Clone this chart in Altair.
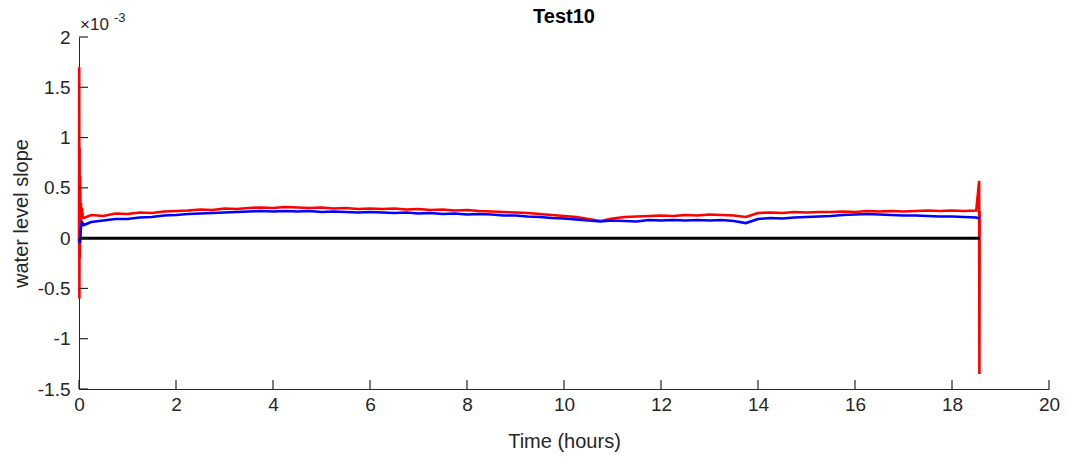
import altair as alt
import pandas as pd

# time (hours) and slope values (units of 1e-3)
red_t = [0.0, 0.004, 0.008, 0.012, 0.016, 0.02, 0.025, 0.03, 0.04, 0.05, 0.06, 0.08,
         0.10, 0.25, 0.50, 0.75, 1.00, 1.25, 1.50, 1.75, 2.00, 2.25, 2.50, 2.75, 3.00,
         3.25, 3.50, 3.75, 4.00, 4.25, 4.50, 4.75, 5.00, 5.25, 5.50, 5.75, 6.00, 6.25,
         6.50, 6.75, 7.00, 7.25, 7.50, 7.75, 8.00, 8.25, 8.50, 8.75, 9.00, 9.25, 9.50,
         9.75, 10.00, 10.25, 10.50, 10.75, 11.00, 11.25, 11.50, 11.75, 12.00, 12.25,
         12.50, 12.75, 13.00, 13.25, 13.50, 13.75, 14.00, 14.25, 14.50, 14.75, 15.00,
         15.25, 15.50, 15.75, 16.00, 16.25, 16.50, 16.75, 17.00, 17.25, 17.50, 17.75,
         18.00, 18.25, 18.50, 18.56, 18.565, 18.57]
red_v = [-0.05, 1.70, -0.60, 0.90, -0.20, 0.35, 0.62, 0.20, 0.35, 0.22, 0.30, 0.20,
         0.20, 0.23, 0.22, 0.245, 0.24, 0.255, 0.25, 0.265, 0.27, 0.275, 0.285, 0.28, 0.295,
         0.29, 0.30, 0.305, 0.30, 0.31, 0.305, 0.30, 0.305, 0.295, 0.30, 0.29, 0.295, 0.29,
         0.295, 0.285, 0.29, 0.28, 0.285, 0.275, 0.28, 0.27, 0.265, 0.26, 0.255, 0.25, 0.24,
         0.23, 0.22, 0.21, 0.19, 0.17, 0.195, 0.21, 0.215, 0.22, 0.225, 0.22,
         0.23, 0.225, 0.235, 0.23, 0.225, 0.21, 0.25, 0.255, 0.25, 0.26, 0.255,
         0.26, 0.26, 0.265, 0.26, 0.27, 0.265, 0.27, 0.265, 0.27, 0.275, 0.27,
         0.275, 0.27, 0.275, 0.57, -1.35, 0.27]

blue_t = [0.0, 0.02, 0.04, 0.06, 0.10, 0.25, 0.50, 0.75, 1.00, 1.25, 1.50, 1.75, 2.00,
          2.25, 2.50, 2.75, 3.00, 3.25, 3.50, 3.75, 4.00, 4.25, 4.50, 4.75, 5.00, 5.25,
          5.50, 5.75, 6.00, 6.25, 6.50, 6.75, 7.00, 7.25, 7.50, 7.75, 8.00, 8.25, 8.50,
          8.75, 9.00, 9.25, 9.50, 9.75, 10.00, 10.25, 10.50, 10.75, 11.00, 11.25, 11.50,
          11.75, 12.00, 12.25, 12.50, 12.75, 13.00, 13.25, 13.50, 13.75, 14.00, 14.25,
          14.50, 14.75, 15.00, 15.25, 15.50, 15.75, 16.00, 16.25, 16.50, 16.75, 17.00,
          17.25, 17.50, 17.75, 18.00, 18.25, 18.50, 18.57]
blue_v = [0.0, -0.05, 0.10, 0.16, 0.13, 0.16, 0.175, 0.19, 0.19, 0.205, 0.21, 0.225, 0.23,
          0.24, 0.245, 0.25, 0.255, 0.26, 0.265, 0.27, 0.265, 0.27, 0.265, 0.27, 0.26, 0.265,
          0.26, 0.255, 0.26, 0.255, 0.25, 0.255, 0.245, 0.25, 0.24, 0.245, 0.235, 0.24, 0.235,
          0.225, 0.225, 0.215, 0.21, 0.20, 0.195, 0.185, 0.175, 0.165, 0.175, 0.17, 0.165,
          0.18, 0.175, 0.18, 0.175, 0.18, 0.175, 0.18, 0.17, 0.15, 0.19, 0.20,
          0.195, 0.205, 0.21, 0.215, 0.22, 0.23, 0.235, 0.24, 0.235, 0.23, 0.225,
          0.225, 0.22, 0.215, 0.215, 0.21, 0.205, 0.195]

zero_t = [0.0, 18.57]
zero_v = [0.0, 0.0]

x_ticks = [0, 2, 4, 6, 8, 10, 12, 14, 16, 18, 20]
y_ticks = [-1.5, -1, -0.5, 0, 0.5, 1, 1.5, 2]

chart_title = "Test10"
x_title = "Time (hours)"
y_title = "water level slope"

W, H = 970, 352
FONT = "Liberation Sans"
TXT = "#262626"

red_df = pd.DataFrame({"t": red_t, "v": red_v})
blue_df = pd.DataFrame({"t": blue_t, "v": blue_v})
zero_df = pd.DataFrame({"t": zero_t, "v": zero_v})
xt_df = pd.DataFrame({"t": x_ticks})
yt_df = pd.DataFrame({"v": y_ticks})

xs = alt.Scale(domain=[0, 20], nice=False, zero=False)
ys = alt.Scale(domain=[-1.5, 2], nice=False, zero=False)

xaxis = alt.Axis(values=x_ticks, tickSize=0, grid=False, domainColor=TXT, domainWidth=1,
                 labelFont=FONT, labelFontSize=19, labelColor=TXT, labelPadding=6,
                 labelFlush=False,
                 title=x_title, titleFont=FONT, titleFontSize=20, titleFontWeight="normal",
                 titleColor=TXT, titleX=W / 2, titleY=58, titleBaseline="alphabetic",
                 titleAlign="center")
yaxis = alt.Axis(values=y_ticks, tickSize=0, grid=False, domainColor=TXT, domainWidth=1,
                 labelFont=FONT, labelFontSize=19, labelColor=TXT, labelPadding=9,
                 labelFlush=False, labelExpr="'' + datum.value",
                 title=y_title, titleFont=FONT, titleFontSize=20,
                 titleFontWeight="normal", titleColor=TXT, titleX=-52, titleY=176,
                 titleAngle=270, titleBaseline="alphabetic", titleAlign="center")

X = alt.X("t:Q", scale=xs, axis=xaxis)
Y = alt.Y("v:Q", scale=ys, axis=yaxis)

red = alt.Chart(red_df).mark_line(color="#ff0000", strokeWidth=2.6).encode(x=X, y=Y)
blue = alt.Chart(blue_df).mark_line(color="#0000ff", strokeWidth=2.6).encode(x=X, y=Y)
zero = alt.Chart(zero_df).mark_line(color="#000000", strokeWidth=3).encode(x=X, y=Y)

xtick = alt.Chart(xt_df).mark_rule(color=TXT, strokeWidth=1.2).encode(
    x=X, y=alt.value(H), y2=alt.value(H - 9))
ytick = alt.Chart(yt_df).mark_rule(color=TXT, strokeWidth=1.2).encode(
    y=Y, x=alt.value(0), x2=alt.value(9))

exp_df = pd.DataFrame({"a": ["\u00d710"], "b": ["-3"], "title": [chart_title]})
times10 = alt.Chart(exp_df).mark_text(align="left", baseline="alphabetic", font=FONT,
                                      fontSize=17, color=TXT).encode(
    text="a:N", x=alt.value(1), y=alt.value(-7))
minus3 = alt.Chart(exp_df).mark_text(align="left", baseline="alphabetic", font=FONT,
                                     fontSize=13, color=TXT).encode(
    text="b:N", x=alt.value(35), y=alt.value(-15))
title = alt.Chart(exp_df).mark_text(align="center", baseline="alphabetic", font=FONT,
                                    fontSize=20, fontWeight="bold", color="#000000").encode(
    text="title:N", x=alt.value(W / 2), y=alt.value(-14))

chart = alt.layer(red, blue, zero, xtick, ytick, times10, minus3, title).properties(
    width=W, height=H,
    autosize=alt.AutoSizeParams(type="none"),
    padding={"left": 79, "top": 37, "right": 18, "bottom": 70},
).configure(background="white", view=alt.ViewConfig(stroke=None))

chart.save("out.html", embed_options={"renderer": "svg", "actions": False})
